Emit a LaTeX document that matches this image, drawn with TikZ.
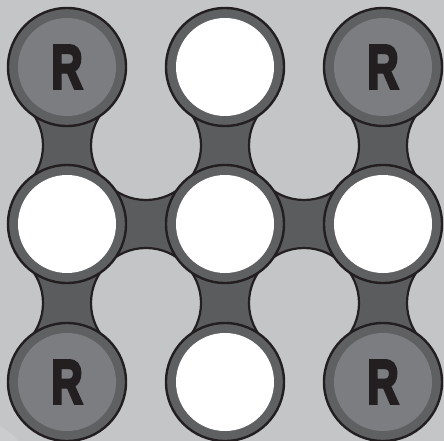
\documentclass[tikz,border=0pt]{standalone}
\usepackage{fontspec}
\newfontfamily\knobfont{Liberation Sans}[BoldFeatures={FakeBold=5}]
\usetikzlibrary{calc}
\definecolor{boardBg}{HTML}{C4C5C7}
\definecolor{boardGlow}{HTML}{CBCCCE}
\definecolor{linkGray}{HTML}{5B5C5E}
\definecolor{ringGray}{HTML}{5F6062}
\definecolor{discGray}{HTML}{7C7D80}
\definecolor{inkBlack}{HTML}{231F20}

\begin{document}
\begin{tikzpicture}[x=1pt, y=-1pt,
          hole/.style={draw=inkBlack, line width=2.2pt},
          link/.style={fill=linkGray},
          knob/.style={circle, draw=inkBlack, line width=2.4pt, fill=ringGray, minimum size=118pt, inner sep=0pt},
          spot/.style={knob, path picture={\fill[white] (path picture bounding box.center) circle (49pt);}},
          rook/.style={knob, path picture={\fill[discGray] (path picture bounding box.center) circle (49pt);},
                       font=\knobfont\bfseries\fontsize{62}{62}\selectfont, text=inkBlack}]
        \fill[boardBg] (0,0) rectangle (444,441);
        \useasboundingbox (0,0) rectangle (444,441);
        \fill[boardGlow] (-20,470) circle (48);
        % board positions
        \coordinate (tl) at (67,67);
        \coordinate (tm) at (225,67);
        \coordinate (tr) at (383,67);
        \coordinate (ml) at (67,224);
        \coordinate (mm) at (225,224);
        \coordinate (mr) at (383,224);
        \coordinate (bl) at (67,382);
        \coordinate (bm) at (225,382);
        \coordinate (br) at (383,382);
        \def\links{tl/ml, tm/mm, tr/mr, ml/mm, mm/mr, ml/bl, mm/bm, mr/br}
        % dark links
        \foreach \a/\b in \links {
          \begin{scope}
            \clip ($(\a)!35pt!90:(\b)$) -- ($(\b)!35pt!-90:(\a)$) -- ($(\b)!35pt!90:(\a)$) -- ($(\a)!35pt!-90:(\b)$) -- cycle;
            \fill[link] (0,0) rectangle (444,441);
          \end{scope}
        }
        % concave sides
        \foreach \a/\b in \links {
          \coordinate (mid) at ($(\a)!0.5!(\b)$);
          \fill[boardBg] ($(mid)!79pt!90:(\b)$) circle (55);
          \fill[boardBg] ($(mid)!79pt!-90:(\b)$) circle (55);
        }
        \foreach \a/\b in \links {
          \begin{scope}
            \coordinate (mid) at ($(\a)!0.5!(\b)$);
            \clip ($(\a)!35pt!90:(\b)$) -- ($(\b)!35pt!-90:(\a)$) -- ($(\b)!35pt!90:(\a)$) -- ($(\a)!35pt!-90:(\b)$) -- cycle;
            \draw[hole] ($(mid)!79pt!90:(\b)$) circle (55);
            \draw[hole] ($(mid)!79pt!-90:(\b)$) circle (55);
          \end{scope}
        }
        \node[rook] (tl-k) at (tl) {\scalebox{0.7}[1]{R}};
        \node[spot] (tm-k) at (tm) {};
        \node[rook] (tr-k) at (tr) {\scalebox{0.7}[1]{R}};
        \node[spot] (ml-k) at (ml) {};
        \node[spot] (mm-k) at (mm) {};
        \node[spot] (mr-k) at (mr) {};
        \node[rook] (bl-k) at (bl) {\scalebox{0.7}[1]{R}};
        \node[spot] (bm-k) at (bm) {};
        \node[rook] (br-k) at (br) {\scalebox{0.7}[1]{R}};
      \end{tikzpicture}
\end{document}
